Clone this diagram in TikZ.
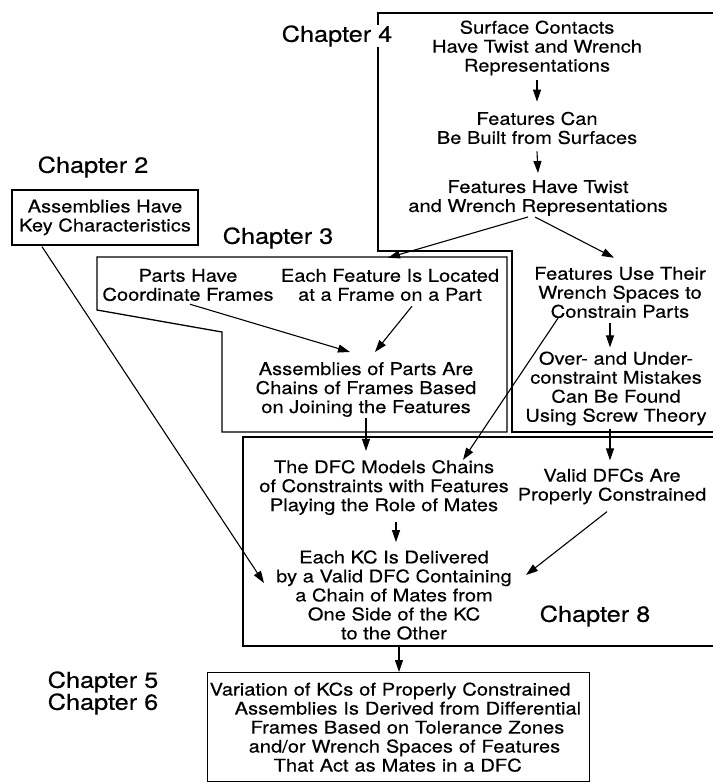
\documentclass[tikz,border=0pt]{standalone}
\usepackage{fontspec}
\setmainfont{TeX Gyre Heros}[FakeStretch=1.15, FakeBold=0.3]
\usetikzlibrary{arrows.meta,calc}
\begin{document}
\begin{tikzpicture}[x=1pt,y=-1pt,
  txt/.style={inner sep=0pt, align=center, font=\fontsize{17.5}{19}\selectfont},
  chap/.style={inner sep=0pt, align=left, font=\fontsize{22}{22}\selectfont},
  frame/.style={line width=1.3pt, line join=miter},
  link/.style={line width=1.1pt, -{Triangle[length=12pt,width=8pt]}},
]
\useasboundingbox (0,0) rectangle (713,782);
\fill[white] (0,0) rectangle (713,782);

% chapter frames
\draw[frame] (713,13) -- (378,13) -- (378,251) -- (512,251) -- (512,432) -- (713,432);
\draw[frame] (97,257) -- (507,257) -- (507,432) -- (222,432) -- (222,332) -- (97,310) -- cycle;
\draw[frame] (713,437) -- (243,437) -- (243,646) -- (713,646);
\coordinate (dfcout) at (399,646);

% chapter labels
\node[chap, fill=white] (lab4) at (337,36) {Chapter 4};
\node[chap] (lab2) at (93,167) {Chapter 2};
\node[chap] (lab3) at (278,238) {Chapter 3};
\node[chap] (lab8) at (595,616) {Chapter 8};
\node[chap] (lab56) at (103,693) {Chapter 5\\Chapter 6};

% chapter 4
\node[txt] (surf) at (537,48) {Surface Contacts\\Have Twist and Wrench\\Representations};
\node[txt] (built) at (537,128) {Features Can\\Be Built from Surfaces};
\node[txt] (ftw) at (538,198) {Features Have Twist\\and Wrench Representations};
\node[txt] (wsp) at (620,292.5) {Features Use Their\\Wrench Spaces to\\Constrain Parts};
\node[txt] (over) at (616,388.5) {Over- and Under-\\constraint Mistakes\\Can Be Found\\Using Screw Theory};

% chapter 3
\node[txt] (parts) at (188,285) {Parts Have\\Coordinate Frames};
\node[txt] (loc) at (390,285) {Each Feature Is Located\\at a Frame on a Part};
\node[txt] (chain) at (366,389.5) {Assemblies of Parts Are\\Chains of Frames Based\\on Joining the Features};

% chapter 2
\node[txt, draw, frame, minimum width=186pt, minimum height=55pt] (kc) at (105,217.5) {Assemblies Have\\Key Characteristics};

% chapter 8
\node[txt] (dfc) at (384,487.5) {The DFC Models Chains\\of Constraints with Features\\Playing the Role of Mates};
\node[txt] (valid) at (612,486.5) {Valid DFCs Are\\Properly Constrained};
\node[txt] (deliv) at (394,595) {Each KC Is Delivered\\by a Valid DFC Containing\\a Chain of Mates from\\One Side of the KC\\to the Other};

% chapters 5 and 6
\node[txt, draw, frame, anchor=north west, align=left, text width=378pt, inner xsep=2pt,
      minimum height=109pt] (var) at (207,672)
  {\mbox{Variation of KCs of Properly Constrained}\\
   \mbox{\hspace*{25pt}Assemblies Is Derived from Differential}\\
   \mbox{\hspace*{41pt}Frames Based on Tolerance Zones}\\
   \mbox{\hspace*{39pt}and/or Wrench Spaces of Features}\\
   \mbox{\hspace*{64pt}That Act as Mates in a DFC}};

% connectors
\draw[link] ($(surf.south)+(0,4)$) -- ($(built.north)+(0,-10)$);
\draw[link] ($(built.south)+(0,7)$) -- ($(ftw.north)+(0,-7)$);
\draw[link] ($(ftw.south)+(-10,1)$) -- ($(loc.north)+(-2,-11)$);
\draw[link] ($(ftw.south)+(-3,1)$) -- ($(wsp.north)+(-6,-9)$);
\draw[link] ($(wsp.south)+(-10,5)$) -- ($(over.north)+(-6,-4)$);
\draw[link] ($(over.south)+(-6,3)$) -- ($(valid.north)+(-2,-8)$);
\draw[link] ($(wsp.south)+(-62,0)$) -- ($(dfc.north)+(79,0)$);
\draw[link] ($(parts.south)+(2,3)$) -- ($(chain.north)+(-16,-10)$);
\draw[link] ($(loc.south)+(22,5)$) -- ($(chain.north)+(9,-10)$);
\draw[link] ($(chain.south)+(0,1)$) -- ($(dfc.north)+(-18,-9)$);
\draw[link] ($(dfc.south)+(12,7)$) -- ($(deliv.north)+(2,-8)$);
\draw[link] ($(valid.south)+(-5,7)$) -- ($(deliv.east)+(14,-20)$);
\draw[link] ($(kc.south)+(-63,1)$) -- ($(deliv.west)+(-12,-12)$);
\draw[link] (dfcout) -- (var.north -| dfcout);
\end{tikzpicture}
\end{document}
